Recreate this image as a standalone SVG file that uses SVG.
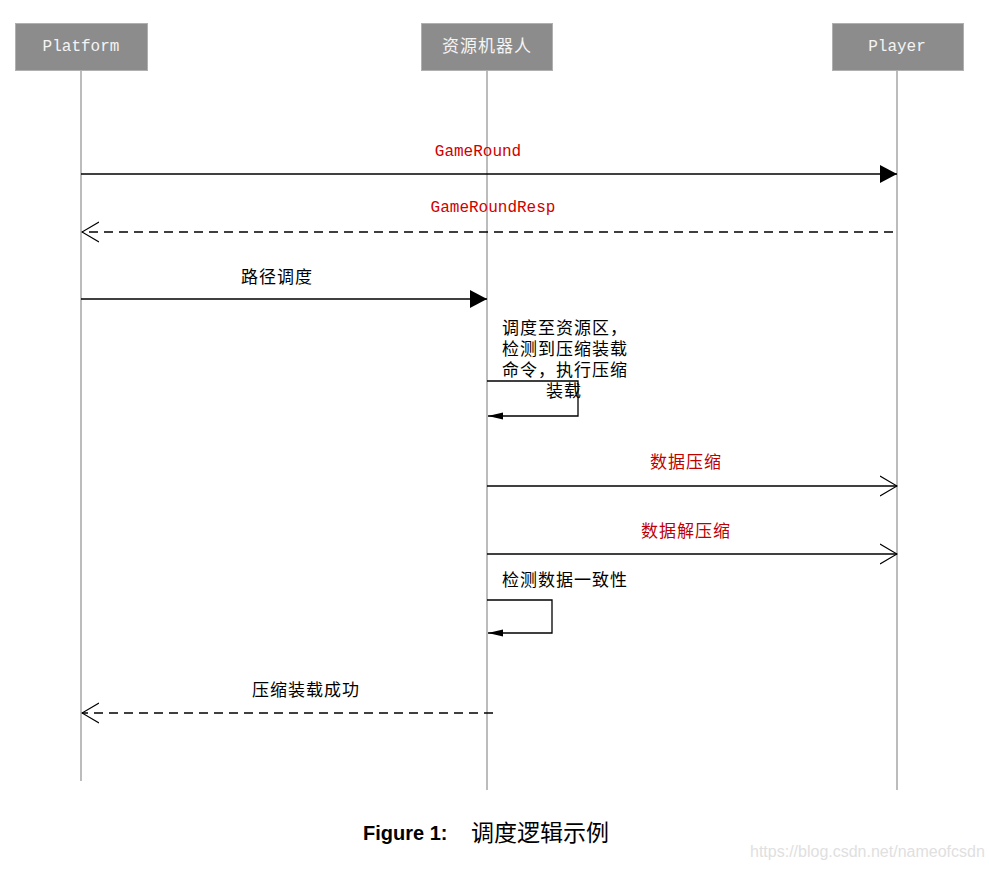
<svg xmlns="http://www.w3.org/2000/svg" width="989" height="870" viewBox="0 0 989 870">
<style>
.box{fill:#8c8c8c;stroke:#b0b0b0;stroke-width:1}
.hd{font-family:"Liberation Mono","Noto Sans CJK SC",monospace;font-size:16px;fill:#f4f4f4;text-anchor:middle}
.hdc{font-family:"Noto Sans CJK SC",sans-serif;font-size:17px;letter-spacing:1px;fill:#f4f4f4;text-anchor:middle}
.life{stroke:#a6a6a6;stroke-width:1.5}
.msg{stroke:#000;stroke-width:1.3;fill:none}
.dash{stroke-dasharray:9,6}
.lbl{font-family:"Liberation Mono",monospace;font-size:16px;fill:#d00000;text-anchor:middle}
.cn{font-family:"Noto Sans CJK SC",sans-serif;font-size:17px;letter-spacing:1px;fill:#000}
.cnr{font-family:"Noto Sans CJK SC",sans-serif;font-size:17px;letter-spacing:1px;fill:#c00000;text-anchor:middle}
</style>
<defs>
<marker id="fill" markerWidth="18" markerHeight="20" refX="17" refY="10" orient="auto" markerUnits="userSpaceOnUse"><path d="M0,1 L17,10 L0,19 Z" fill="#000"/></marker>
<marker id="small" markerWidth="16" markerHeight="10" refX="15" refY="5" orient="auto" markerUnits="userSpaceOnUse"><path d="M0,1.5 L15,5 L0,8.5 Z" fill="#000"/></marker>
<marker id="open" markerWidth="18" markerHeight="22" refX="17" refY="11" orient="auto" markerUnits="userSpaceOnUse"><path d="M0,1 L17,11 L0,21" fill="none" stroke="#000" stroke-width="1.2"/></marker>
</defs>
<rect width="989" height="870" fill="#fff"/>
<g id="lifelines">
<line class="life" x1="81" y1="71" x2="81" y2="781"/>
<line class="life" x1="487" y1="71" x2="487" y2="790"/>
<line class="life" x1="897" y1="71" x2="897" y2="790"/>
</g>
<g id="node-platform"><rect class="box" x="15.5" y="23.5" width="132" height="47"/><text class="hd" x="81" y="51">Platform</text></g>
<g id="node-robot"><rect class="box" x="421.5" y="23.5" width="131" height="47"/><text class="hdc" x="487" y="52">资源机器人</text></g>
<g id="node-player"><rect class="box" x="832.5" y="23.5" width="131" height="47"/><text class="hd" x="897" y="51">Player</text></g>
<g id="connectors">
<line class="msg" x1="81" y1="174" x2="897" y2="174" marker-end="url(#fill)"/>
<line class="msg dash" x1="893" y1="232" x2="82" y2="232" marker-end="url(#open)"/>
<line class="msg" x1="81" y1="299" x2="487" y2="299" marker-end="url(#fill)"/>
<polyline class="msg" points="487,381 578,381 578,416 488,416" marker-end="url(#small)"/>
<line class="msg" x1="487" y1="486" x2="897" y2="486" marker-end="url(#open)"/>
<line class="msg" x1="487" y1="554" x2="897" y2="554" marker-end="url(#open)"/>
<polyline class="msg" points="487,600 552,600 552,633 488,633" marker-end="url(#small)"/>
<line class="msg dash" x1="493" y1="713" x2="82" y2="713" marker-end="url(#open)"/>
</g>
<g id="labels">
<text class="lbl" x="478" y="156">GameRound</text>
<text class="lbl" x="493" y="212">GameRoundResp</text>
<text class="cn" x="277" y="283" text-anchor="middle">路径调度</text>
<text class="cn"><tspan x="502" y="334">调度至资源区，</tspan><tspan x="502" y="355">检测到压缩装载</tspan><tspan x="502" y="376">命令，执行压缩</tspan><tspan x="546" y="397">装载</tspan></text>
<text class="cnr" x="686" y="468">数据压缩</text>
<text class="cnr" x="686" y="537">数据解压缩</text>
<text class="cn" x="502" y="586">检测数据一致性</text>
<text class="cn" x="306" y="696" text-anchor="middle">压缩装载成功</text>
</g>
<g id="caption">
<text x="363" y="840" font-family="'Liberation Sans','Noto Sans CJK SC',sans-serif" font-size="20" font-weight="bold" fill="#000">Figure 1:</text>
<text x="471" y="841" font-family="'Noto Sans CJK SC',sans-serif" font-size="23" fill="#000">调度逻辑示例</text>
<text x="750" y="857" font-family="'Liberation Sans',sans-serif" font-size="16" fill="#e0e0e0">https://blog.csdn.net/nameofcsdn</text>
</g>
</svg>
